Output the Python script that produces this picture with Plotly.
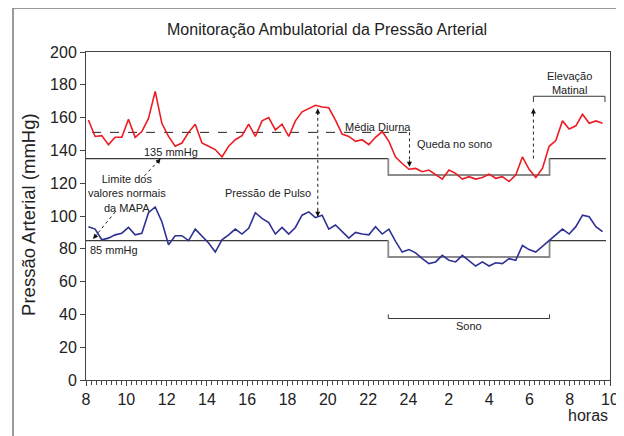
import plotly.graph_objects as go

# ---------------- data ----------------
title_text = "Monitoração Ambulatorial da Pressão Arterial"
START_HOUR = 8.12          # first reading (hours)
STEP_HOURS = 0.3313        # ~20 min between readings

systolic = [158.5, 148.5, 149, 143.5, 148, 148, 159, 148, 151.5, 159.5,
            176, 156.5, 148.5, 142.5, 144.5, 151, 156, 144.5, 142.5, 140.5,
            136, 142.5, 146.5, 149, 156, 148.5, 158,
            160, 152.5, 156, 148.5, 158, 163.5, 165.5, 167.5, 166.5, 166,
            158.5, 150, 148.5, 145.5, 146.5, 143.5, 148, 151.5, 145.5, 136,
            132, 128.5, 129, 127, 128, 125,
            122.5, 128, 126, 122.5, 124, 122.5, 123.5, 125.5, 123, 124,
            121, 125, 136, 128.5, 123.5, 129, 142.5, 146, 158, 153,
            155, 162, 156.5, 158, 156.5]

diastolic = [93.5, 92, 85.5, 86.5, 88.5, 89.5, 93, 88.5, 89.5, 102,
             105.5, 96.5, 82.5, 88, 88, 85, 92, 87.5, 83.5, 78,
             85.5, 88.5, 92, 89, 92.5, 102, 98.5,
             96, 89, 93, 89, 93, 100.5, 102.5, 99, 100.5, 92,
             94.5, 90.5, 86.5, 90, 89, 88.5, 93.5, 89, 92, 84.5,
             78, 79.5, 77.5, 74, 71, 72,
             76, 73, 72, 76, 73, 69.5, 72, 69.5, 71.5, 71,
             74, 73, 82, 79.5, 78, 81.5, 85, 89, 92, 89,
             93.5, 100.5, 99.5, 93.5, 90.5]

hours = [START_HOUR + i * STEP_HOURS for i in range(len(systolic))]

# reference limits (day / sleep / morning)
limit_hours = [8, 23, 31, 33.8]
sys_limits = [135, 125, 135]
dia_limits = [85, 75, 85]

daytime_mean_sys = 151
day_mean_hours = [8.3, 24.05]

sleep_hours = [23, 31]
pulse_hour = 19.5
pulse_range = [99.5, 165.5]
drop_hour = 24.05
drop_range = [151, 130]
rise_hour = 30.2
rise_range = [135, 165.5]
rise_bracket_hours = [30.2, 33.75]

x_tickvals = [8, 10, 12, 14, 16, 18, 20, 22, 24, 26, 28, 30, 32, 34]
x_ticktext = ["8", "10", "12", "14", "16", "18", "20", "22", "24",
              "2", "4", "6", "8", "10"]
y_tickvals = [0, 20, 40, 60, 80, 100, 120, 140, 160, 180, 200]

# ---------------- style ----------------
FONT = "Liberation Sans, Arial, sans-serif"
RED = "#ec1c24"
BLUE = "#2e3192"
DARK = "#3a3a3a"
NIGHT = "#8a8a8a"

fig = go.Figure()

# limit step lines
for lims in (sys_limits, dia_limits):
    fig.add_trace(go.Scatter(x=[limit_hours[0], limit_hours[1]], y=[lims[0], lims[0]],
                             mode="lines", line=dict(color=DARK, width=1.2),
                             hoverinfo="skip"))
    fig.add_trace(go.Scatter(x=[limit_hours[1], limit_hours[1], limit_hours[2], limit_hours[2]],
                             y=[lims[0], lims[1], lims[1], lims[2]],
                             mode="lines", line=dict(color=NIGHT, width=1.8),
                             hoverinfo="skip"))
    fig.add_trace(go.Scatter(x=[limit_hours[2], limit_hours[3]], y=[lims[2], lims[2]],
                             mode="lines", line=dict(color=DARK, width=1.2),
                             hoverinfo="skip"))

# daytime mean (dashed)
fig.add_trace(go.Scatter(x=day_mean_hours, y=[daytime_mean_sys, daytime_mean_sys],
                         mode="lines", line=dict(color="#222", width=1, dash="dash"),
                         hoverinfo="skip"))

# dotted arrow shafts
def dotted(xs, ys):
    fig.add_trace(go.Scatter(x=xs, y=ys, mode="lines",
                             line=dict(color="#222", width=1, dash="dot"),
                             hoverinfo="skip"))

dotted([pulse_hour, pulse_hour], pulse_range)
dotted([drop_hour, drop_hour], drop_range)
dotted([rise_hour, rise_hour], rise_range)
dotted([10.9, 11.7], [124.5, 135])
dotted([9.45, 8.35], [102.5, 86])

# brackets
fig.add_trace(go.Scatter(x=[sleep_hours[0], sleep_hours[0], sleep_hours[1], sleep_hours[1]],
                         y=[40, 37.5, 37.5, 40], mode="lines",
                         line=dict(color=DARK, width=1), hoverinfo="skip"))
fig.add_trace(go.Scatter(x=[rise_bracket_hours[0], rise_bracket_hours[0],
                            rise_bracket_hours[1], rise_bracket_hours[1]],
                         y=[169.5, 173, 173, 169.5], mode="lines",
                         line=dict(color=DARK, width=1), hoverinfo="skip"))

# series
fig.add_trace(go.Scatter(x=hours, y=systolic, mode="lines",
                         line=dict(color=RED, width=1.6), name="Sistólica"))
fig.add_trace(go.Scatter(x=hours, y=diastolic, mode="lines",
                         line=dict(color=BLUE, width=1.6), name="Diastólica"))

annotations = []

def head(x, y, ax, ay):
    annotations.append(dict(x=x, y=y, xref="x", yref="y", text="", showarrow=True,
                            arrowhead=2, arrowsize=1, arrowwidth=1, arrowcolor="#111",
                            ax=ax, ay=ay))

head(pulse_hour, pulse_range[1], 0, 8)
head(pulse_hour, pulse_range[0], 0, -8)
head(drop_hour, drop_range[1], 0, -8)
head(rise_hour, rise_range[1], 0, 8)
head(11.7, 135, -5, 6)
head(8.35, 86, 5, -6)

def label(x, y, text, size=11, xref="x", yref="y", **kw):
    d = dict(x=x, y=y, xref=xref, yref=yref, text=text, showarrow=False,
             xanchor="center", yanchor="middle",
             font=dict(family=FONT, size=size, color="#222"))
    d.update(kw)
    annotations.append(d)

label(12.2, 139, "135 mmHg")
label(9.4, 79.5, "85 mmHg")
label(10.05, 114, "Limite dos<br>valores normais<br>da MAPA")
label(17.05, 114, "Pressão de Pulso")
label(22.5, 154.5, "Média Diurna")
label(26.3, 144, "Queda no sono")
label(27, 33, "Sono", size=11)
label(31.98, 181, "Elevação<br>Matinal")
label(0.958, -0.109, "horas", size=16, xref="paper", yref="paper")
label(-0.1097, 0.505, "Pressão Arterial (mmHg)", size=18.5, xref="paper", yref="paper",
      textangle=-90)

# page body has an 8px margin: figure is 616x428, placed at (8, 8)
fig.update_layout(
    template="none",
    width=616, height=428,
    margin=dict(l=78, r=14, t=44, b=56, autoexpand=False),
    paper_bgcolor="white", plot_bgcolor="white",
    showlegend=False,
    font=dict(family=FONT, size=16, color="#222"),
    title=dict(text=title_text, x=0.518, xref="container", xanchor="center",
               y=0.949, yref="container", yanchor="middle",
               font=dict(family=FONT, size=16, color="#222")),
    annotations=annotations,
    shapes=[dict(type="rect", xref="paper", yref="paper",
                 x0=-0.1393, x1=1.0134, y0=-0.2, y1=1.134,
                 line=dict(color="#7a7a7a", width=1.5), layer="below")],
)

fig.update_xaxes(range=[8, 34], tickvals=x_tickvals, ticktext=x_ticktext,
                 automargin=False,
                 showgrid=False, zeroline=False, showline=True, mirror=True,
                 linecolor="#444", linewidth=1, ticks="outside", ticklen=5,
                 tickcolor="#444", tickfont=dict(family=FONT, size=16),
                 minor=dict(dtick=0.25, tick0=8, ticks="outside", ticklen=4,
                            tickcolor="#444", showgrid=False))
fig.update_yaxes(range=[0, 200], tickvals=y_tickvals, automargin=False,
                 showgrid=False, zeroline=False, showline=True, mirror=True,
                 linecolor="#444", linewidth=1, ticks="outside", ticklen=5,
                 tickcolor="#444", tickfont=dict(family=FONT, size=16))

fig.write_html("out.html")
